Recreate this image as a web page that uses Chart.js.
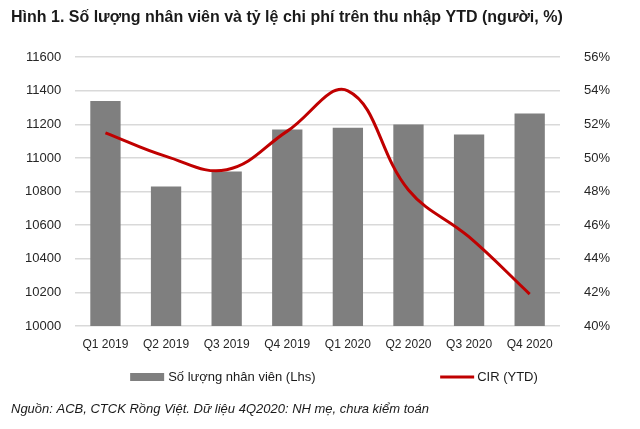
<!DOCTYPE html>
<html>
<head>
<meta charset="utf-8">
<script src="https://cdn.jsdelivr.net/npm/chart.js@4"></script>
<style>
  body { margin: 0; background: #fff; }
  #wrap { width: 640px; height: 429px; }
</style>
</head>
<body>
<div id="wrap"><canvas id="myChart"></canvas></div>
<script>
// du lieu
const quarters = ["Q1 2019", "Q2 2019", "Q3 2019", "Q4 2019", "Q1 2020", "Q2 2020", "Q3 2020", "Q4 2020"];
const staff = [11340, 10830, 10920, 11170, 11180, 11200, 11140, 11265];
const cir = [51.5, 50.1, 49.3, 51.6, 54.0, 48.1, 45.3, 41.9];
const leftTicks = [10000, 10200, 10400, 10600, 10800, 11000, 11200, 11400, 11600];
const rightTicks = [40, 42, 44, 46, 48, 50, 52, 54, 56];

const FONT = "'Liberation Sans', Arial, sans-serif";
Chart.defaults.font.family = FONT;
Chart.defaults.color = "#262626";

// legend ve tay, giua hai muc co khoang trong lon nhu ban goc
const spacedLegend = {
  id: "spacedLegend",
  afterDraw(chart) {
    const c = chart.ctx;
    const area = chart.chartArea;
    const y = area.bottom + 51;
    const bar = chart.data.datasets[1];
    const line = chart.data.datasets[0];
    c.save();
    c.font = "13px " + FONT;
    c.textBaseline = "middle";
    c.fillStyle = bar.backgroundColor;
    let x = area.left + 55;
    c.fillRect(x, y - 4, 34, 8);
    c.fillStyle = "#1a1a1a";
    c.fillText(bar.label, x + 38, y);
    x = area.left + 365;
    c.strokeStyle = line.borderColor;
    c.lineWidth = 3;
    c.beginPath();
    c.moveTo(x, y);
    c.lineTo(x + 34, y);
    c.stroke();
    c.fillText(line.label, x + 37, y);
    c.restore();
  },
};

const ctx = document.getElementById("myChart").getContext("2d");

const data = {
  labels: quarters,
  datasets: [
    {
      type: "line",
      label: "CIR (YTD)",
      data: cir,
      yAxisID: "y1",
      borderColor: "#c00000",
      backgroundColor: "#c00000",
      borderWidth: 3,
      pointRadius: 0,
      tension: 0.4,
      order: 0,
    },
    {
      type: "bar",
      label: "Số lượng nhân viên (Lhs)",
      data: staff,
      yAxisID: "y",
      backgroundColor: "#7f7f7f",
      barPercentage: 0.5,
      categoryPercentage: 1,
      order: 1,
    },
  ],
};

const config = {
  data: data,
  plugins: [spacedLegend],
  options: {
    responsive: true,
    maintainAspectRatio: false,
    animation: false,
    layout: { padding: { left: 11, right: 14 } },
    plugins: {
      title: {
        display: true,
        text: "Hình 1. Số lượng nhân viên và tỷ lệ chi phí trên thu nhập YTD (người, %)",
        align: "start",
        color: "#1a1a1a",
        font: { size: 16, weight: "bold" },
        padding: { top: 8, bottom: 30 },
      },
      subtitle: {
        display: true,
        position: "bottom",
        text: "Nguồn: ACB, CTCK Rồng Việt. Dữ liệu 4Q2020: NH mẹ, chưa kiểm toán",
        align: "start",
        color: "#1a1a1a",
        font: { size: 13, style: "italic" },
        padding: { top: 47, bottom: 12 },
      },
      legend: { display: false },
      tooltip: { enabled: false },
    },
    scales: {
      x: {
        grid: { display: false },
        border: { display: false },
        ticks: { font: { size: 12 }, maxRotation: 0, autoSkip: false },
      },
      y: {
        position: "left",
        min: 10000,
        max: 11600,
        afterBuildTicks: (axis) => { axis.ticks = leftTicks.map((v) => ({ value: v })); },
        grid: { color: "#d9d9d9", lineWidth: 1.5, drawTicks: false },
        border: { display: false },
        ticks: {
          font: { size: 13 },
          padding: 14,
          autoSkip: false,
          callback: function (value) {
            return String(value);
          },
        },
      },
      y1: {
        position: "right",
        min: 40,
        max: 56,
        afterBuildTicks: (axis) => { axis.ticks = rightTicks.map((v) => ({ value: v })); },
        grid: { display: false },
        border: { display: false },
        ticks: {
          font: { size: 13 },
          padding: 16,
          autoSkip: false,
          callback: function (value) {
            return value + "%";
          },
        },
      },
    },
  },
};

const myChart = new Chart(ctx, config);
</script>
</body>
</html>
